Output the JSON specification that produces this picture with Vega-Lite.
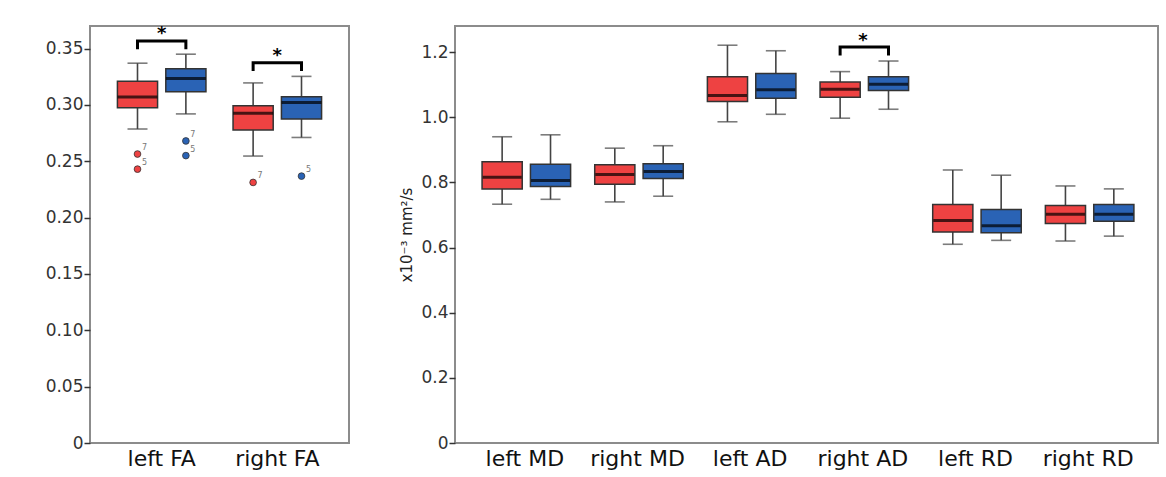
{
  "$schema": "https://vega.github.io/schema/vega-lite/v6.json",
  "padding": {"left": 44, "top": 24, "right": 4, "bottom": 2},
  "bounds": "flush",
  "spacing": 106,
  "datasets": {
    "boxes": [
      {"panel": "FA", "cat": "left FA", "group": "Group 1", "lower": 0.2786, "q1": 0.2975, "median": 0.307, "q3": 0.321, "upper": 0.337},
      {"panel": "FA", "cat": "left FA", "group": "Group 2", "lower": 0.292, "q1": 0.3117, "median": 0.3235, "q3": 0.332, "upper": 0.345},
      {"panel": "FA", "cat": "right FA", "group": "Group 1", "lower": 0.2546, "q1": 0.2777, "median": 0.2925, "q3": 0.2993, "upper": 0.3195},
      {"panel": "FA", "cat": "right FA", "group": "Group 2", "lower": 0.2711, "q1": 0.2875, "median": 0.3022, "q3": 0.3073, "upper": 0.3253},
      {"panel": "D", "cat": "left MD", "group": "Group 1", "lower": 0.733, "q1": 0.78, "median": 0.8156, "q3": 0.8636, "upper": 0.94},
      {"panel": "D", "cat": "left MD", "group": "Group 2", "lower": 0.748, "q1": 0.787, "median": 0.8055, "q3": 0.856, "upper": 0.946},
      {"panel": "D", "cat": "right MD", "group": "Group 1", "lower": 0.74, "q1": 0.794, "median": 0.824, "q3": 0.854, "upper": 0.905},
      {"panel": "D", "cat": "right MD", "group": "Group 2", "lower": 0.7575, "q1": 0.8116, "median": 0.833, "q3": 0.857, "upper": 0.9125},
      {"panel": "D", "cat": "left AD", "group": "Group 1", "lower": 0.986, "q1": 1.048, "median": 1.067, "q3": 1.1245, "upper": 1.221},
      {"panel": "D", "cat": "left AD", "group": "Group 2", "lower": 1.009, "q1": 1.058, "median": 1.084, "q3": 1.134, "upper": 1.204},
      {"panel": "D", "cat": "right AD", "group": "Group 1", "lower": 0.997, "q1": 1.061, "median": 1.0856, "q3": 1.108, "upper": 1.14},
      {"panel": "D", "cat": "right AD", "group": "Group 2", "lower": 1.0245, "q1": 1.0817, "median": 1.101, "q3": 1.1245, "upper": 1.1725},
      {"panel": "D", "cat": "left RD", "group": "Group 1", "lower": 0.61, "q1": 0.6474, "median": 0.683, "q3": 0.732, "upper": 0.838},
      {"panel": "D", "cat": "left RD", "group": "Group 2", "lower": 0.622, "q1": 0.645, "median": 0.667, "q3": 0.717, "upper": 0.822},
      {"panel": "D", "cat": "right RD", "group": "Group 1", "lower": 0.62, "q1": 0.674, "median": 0.7025, "q3": 0.729, "upper": 0.789},
      {"panel": "D", "cat": "right RD", "group": "Group 2", "lower": 0.635, "q1": 0.681, "median": 0.7025, "q3": 0.732, "upper": 0.78}
    ],
    "outliers": [
      {"cat": "left FA", "group": "Group 1", "value": 0.2564, "label": "7"},
      {"cat": "left FA", "group": "Group 1", "value": 0.243, "label": "5"},
      {"cat": "left FA", "group": "Group 2", "value": 0.268, "label": "7"},
      {"cat": "left FA", "group": "Group 2", "value": 0.255, "label": "5"},
      {"cat": "right FA", "group": "Group 1", "value": 0.2312, "label": "7"},
      {"cat": "right FA", "group": "Group 2", "value": 0.2368, "label": "5"}
    ],
    "brackets": [
      {"panel": "FA", "id": "b1", "cat": "left FA", "group": "Group 1", "ord": 1, "value": 0.3493},
      {"panel": "FA", "id": "b1", "cat": "left FA", "group": "Group 1", "ord": 2, "value": 0.3567},
      {"panel": "FA", "id": "b1", "cat": "left FA", "group": "Group 2", "ord": 3, "value": 0.3567},
      {"panel": "FA", "id": "b1", "cat": "left FA", "group": "Group 2", "ord": 4, "value": 0.3493},
      {"panel": "FA", "id": "b2", "cat": "right FA", "group": "Group 1", "ord": 1, "value": 0.330},
      {"panel": "FA", "id": "b2", "cat": "right FA", "group": "Group 1", "ord": 2, "value": 0.3375},
      {"panel": "FA", "id": "b2", "cat": "right FA", "group": "Group 2", "ord": 3, "value": 0.3375},
      {"panel": "FA", "id": "b2", "cat": "right FA", "group": "Group 2", "ord": 4, "value": 0.330},
      {"panel": "D", "id": "b3", "cat": "right AD", "group": "Group 1", "ord": 1, "value": 1.1896},
      {"panel": "D", "id": "b3", "cat": "right AD", "group": "Group 1", "ord": 2, "value": 1.2153},
      {"panel": "D", "id": "b3", "cat": "right AD", "group": "Group 2", "ord": 3, "value": 1.2153},
      {"panel": "D", "id": "b3", "cat": "right AD", "group": "Group 2", "ord": 4, "value": 1.1896}
    ],
    "stars": [
      {"panel": "FA", "cat": "left FA", "value": 0.3625, "text": "*"},
      {"panel": "FA", "cat": "right FA", "value": 0.3432, "text": "*"},
      {"panel": "D", "cat": "right AD", "value": 1.235, "text": "*"}
    ]
  },
  "hconcat": [
    {
      "width": 259,
      "height": 417,
      "encoding": {
        "x": {"field": "cat", "type": "nominal", "sort": ["left FA", "right FA"], "title": null,
          "scale": {"domain": ["left FA", "right FA"], "paddingInner": 0, "paddingOuter": 0.12},
          "axis": {"ticks": false, "labelFontSize": 22, "labelColor": "#111", "labelPadding": 5, "labelAngle": 0}}
      },
      "layer": [
        {
          "data": {"name": "boxes"},
          "transform": [{"filter": "datum.panel == 'FA'"}],
          "mark": {"type": "rule", "color": "#444", "strokeWidth": 1.6},
          "encoding": {
            "xOffset": {"field": "group", "type": "nominal", "scale": {"domain": ["Group 1", "Group 2"], "paddingInner": 0.17, "paddingOuter": 0.28}},
            "y": {"field": "lower", "type": "quantitative", "title": null,
              "scale": {"domain": [0, 0.37], "nice": false, "zero": true},
              "axis": {"values": [0, 0.05, 0.1, 0.15, 0.2, 0.25, 0.3, 0.35], "labelExpr": "datum.value == 0 ? '0' : format(datum.value, '.2f')", "labelFontSize": 17, "labelColor": "#333", "tickSize": 6, "tickColor": "#333", "tickWidth": 1.5, "labelPadding": 1}},
            "y2": {"field": "upper"}
          }
        },
        {
          "data": {"name": "boxes"},
          "transform": [{"filter": "datum.panel == 'FA'"}],
          "mark": {"type": "tick", "color": "#444", "size": 20, "thickness": 1.6},
          "encoding": {
            "xOffset": {"field": "group", "type": "nominal"},
            "y": {"field": "lower", "type": "quantitative", "title": null}}
        },
        {
          "data": {"name": "boxes"},
          "transform": [{"filter": "datum.panel == 'FA'"}],
          "mark": {"type": "tick", "color": "#444", "size": 20, "thickness": 1.6},
          "encoding": {
            "xOffset": {"field": "group", "type": "nominal"},
            "y": {"field": "upper", "type": "quantitative", "title": null}}
        },
        {
          "data": {"name": "boxes"},
          "transform": [{"filter": "datum.panel == 'FA'"}],
          "mark": {"type": "bar", "stroke": "#333", "strokeWidth": 1.5, "opacity": 1},
          "encoding": {
            "xOffset": {"field": "group", "type": "nominal"},
            "y": {"field": "q1", "type": "quantitative", "title": null},
            "y2": {"field": "q3"},
            "color": {"field": "group", "type": "nominal", "scale": {"domain": ["Group 1", "Group 2"], "range": ["#ee4242", "#2a63b5"]}, "legend": null}
          }
        },
        {
          "data": {"name": "boxes"},
          "transform": [{"filter": "datum.panel == 'FA'"}],
          "mark": {"type": "tick", "color": "#000", "size": 40, "thickness": 3},
          "encoding": {
            "xOffset": {"field": "group", "type": "nominal"},
            "y": {"field": "median", "type": "quantitative", "title": null}}
        },
        {
          "data": {"name": "outliers"},
          "mark": {"type": "point", "filled": true, "size": 45, "stroke": "#333", "strokeWidth": 0.8, "opacity": 1},
          "encoding": {
            "xOffset": {"field": "group", "type": "nominal"},
            "y": {"field": "value", "type": "quantitative", "title": null},
            "color": {"field": "group", "type": "nominal", "legend": null}
          }
        },
        {
          "data": {"name": "outliers"},
          "mark": {"type": "text", "fontSize": 8, "color": "#777", "dx": 7, "dy": -6},
          "encoding": {
            "xOffset": {"field": "group", "type": "nominal"},
            "y": {"field": "value", "type": "quantitative", "title": null},
            "text": {"field": "label"}
          }
        },
        {
          "data": {"name": "brackets"},
          "transform": [{"filter": "datum.panel == 'FA'"}],
          "mark": {"type": "line", "color": "#000", "strokeWidth": 3, "strokeJoin": "miter"},
          "encoding": {
            "xOffset": {"field": "group", "type": "nominal"},
            "y": {"field": "value", "type": "quantitative", "title": null},
            "order": {"field": "ord"},
            "detail": {"field": "id"}
          }
        },
        {
          "data": {"name": "stars"},
          "transform": [{"filter": "datum.panel == 'FA'"}],
          "mark": {"type": "text", "fontSize": 18, "fontWeight": "bold", "color": "#000", "baseline": "middle"},
          "encoding": {
            "y": {"field": "value", "type": "quantitative", "title": null},
            "text": {"field": "text"}
          }
        }
      ]
    },
    {
      "width": 703,
      "height": 417,
      "encoding": {
        "x": {"field": "cat", "type": "nominal", "title": null,
          "sort": ["left MD", "right MD", "left AD", "right AD", "left RD", "right RD"],
          "scale": {"domain": ["left MD", "right MD", "left AD", "right AD", "left RD", "right RD"], "paddingInner": 0, "paddingOuter": 0.12},
          "axis": {"ticks": false, "labelFontSize": 22, "labelColor": "#111", "labelPadding": 5, "labelAngle": 0}}
      },
      "layer": [
        {
          "data": {"name": "boxes"},
          "transform": [{"filter": "datum.panel == 'D'"}],
          "mark": {"type": "rule", "color": "#444", "strokeWidth": 1.6},
          "encoding": {
            "xOffset": {"field": "group", "type": "nominal", "scale": {"domain": ["Group 1", "Group 2"], "paddingInner": 0.17, "paddingOuter": 0.28}},
            "y": {"field": "lower", "type": "quantitative", "title": "x10⁻³ mm²/s",
              "scale": {"domain": [0, 1.28], "nice": false, "zero": true},
              "axis": {"values": [0, 0.2, 0.4, 0.6, 0.8, 1.0, 1.2], "labelExpr": "datum.value == 0 ? '0' : format(datum.value, '.1f')", "labelFontSize": 17, "labelColor": "#333", "tickSize": 6, "tickColor": "#333", "tickWidth": 1.5, "labelPadding": 1, "titleFontSize": 15, "titleFontWeight": "normal", "titleColor": "#222", "titlePadding": 6}},
            "y2": {"field": "upper"}
          }
        },
        {
          "data": {"name": "boxes"},
          "transform": [{"filter": "datum.panel == 'D'"}],
          "mark": {"type": "tick", "color": "#444", "size": 20, "thickness": 1.6},
          "encoding": {
            "xOffset": {"field": "group", "type": "nominal"},
            "y": {"field": "lower", "type": "quantitative"}}
        },
        {
          "data": {"name": "boxes"},
          "transform": [{"filter": "datum.panel == 'D'"}],
          "mark": {"type": "tick", "color": "#444", "size": 20, "thickness": 1.6},
          "encoding": {
            "xOffset": {"field": "group", "type": "nominal"},
            "y": {"field": "upper", "type": "quantitative"}}
        },
        {
          "data": {"name": "boxes"},
          "transform": [{"filter": "datum.panel == 'D'"}],
          "mark": {"type": "bar", "stroke": "#333", "strokeWidth": 1.5, "opacity": 1},
          "encoding": {
            "xOffset": {"field": "group", "type": "nominal"},
            "y": {"field": "q1", "type": "quantitative"},
            "y2": {"field": "q3"},
            "color": {"field": "group", "type": "nominal", "scale": {"domain": ["Group 1", "Group 2"], "range": ["#ee4242", "#2a63b5"]}, "legend": null}
          }
        },
        {
          "data": {"name": "boxes"},
          "transform": [{"filter": "datum.panel == 'D'"}],
          "mark": {"type": "tick", "color": "#000", "size": 39, "thickness": 3},
          "encoding": {
            "xOffset": {"field": "group", "type": "nominal"},
            "y": {"field": "median", "type": "quantitative"}}
        },
        {
          "data": {"name": "brackets"},
          "transform": [{"filter": "datum.panel == 'D'"}],
          "mark": {"type": "line", "color": "#000", "strokeWidth": 3, "strokeJoin": "miter"},
          "encoding": {
            "xOffset": {"field": "group", "type": "nominal"},
            "y": {"field": "value", "type": "quantitative"},
            "order": {"field": "ord"},
            "detail": {"field": "id"}
          }
        },
        {
          "data": {"name": "stars"},
          "transform": [{"filter": "datum.panel == 'D'"}],
          "mark": {"type": "text", "fontSize": 18, "fontWeight": "bold", "color": "#000", "baseline": "middle"},
          "encoding": {
            "y": {"field": "value", "type": "quantitative"},
            "text": {"field": "text"}
          }
        }
      ]
    }
  ],
  "config": {
    "font": "DejaVu Sans",
    "view": {"stroke": "#8c8c8c", "strokeWidth": 2},
    "axis": {"domain": false, "grid": false}
  }
}
